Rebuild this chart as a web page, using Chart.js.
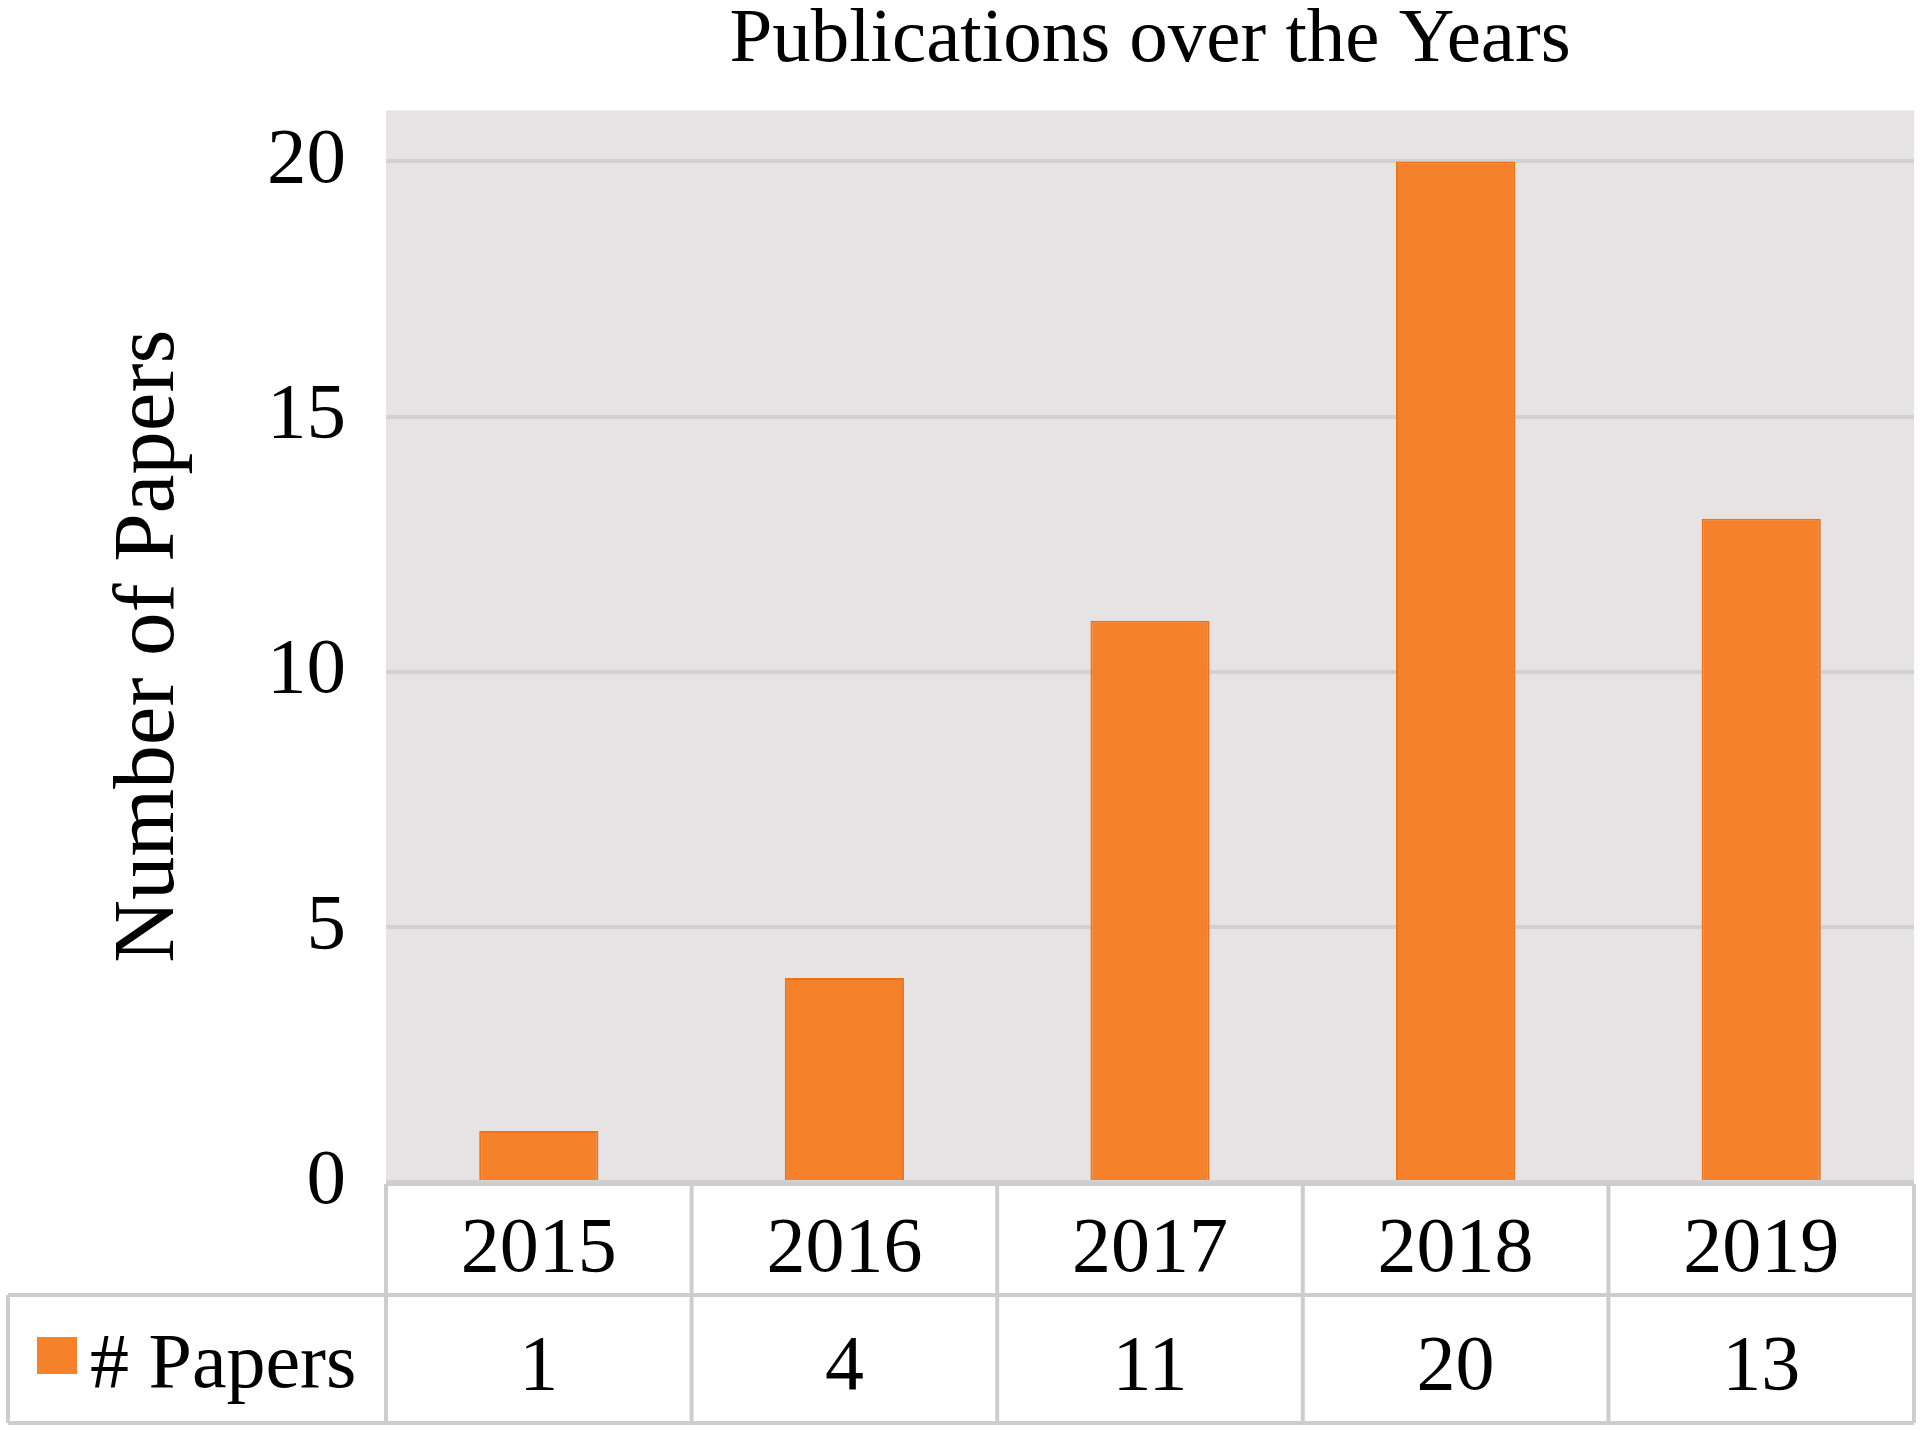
<!DOCTYPE html>
<html>
<head>
<meta charset="utf-8">
<title>Publications over the Years</title>
<script src="https://cdn.jsdelivr.net/npm/chart.js@4"></script>
<style>
    html, body { margin: 0; padding: 0; background: #ffffff; }
    #wrap { width: 1920px; height: 1431px; }
</style>
</head>
<body>
<div id="wrap"><canvas id="papersChart" width="1920" height="1431"></canvas></div>
<script>
// ============================== Data ==============================
const years = ["2015", "2016", "2017", "2018", "2019"];
const papers = [1, 4, 11, 20, 13];
const yTicks = [0, 5, 10, 15, 20];
const seriesLabel = "# Papers";
const chartTitle = "Publications over the Years";
const yTitle = "Number of Papers";

const serif = "'Liberation Serif', 'Times New Roman', serif";
const barColor = "#f5822a";
const lineGray = "#cdcdcd";

// ============================== Plugins ==============================
// grey plot background behind the bars
const plotBackground = {
    id: "plotBackground",
    beforeDraw(chart) {
        const { ctx, chartArea } = chart;
        ctx.save();
        ctx.fillStyle = "#e5e3e4";
        ctx.fillRect(chartArea.left, chartArea.top, chartArea.right - chartArea.left, chartArea.bottom - chartArea.top);
        ctx.restore();
    }
};

// data table under the plot (years row + values row with legend key)
const dataTable = {
    id: "dataTable",
    afterDraw(chart) {
        const { ctx, chartArea } = chart;
        const x = chart.scales.x;
        const top = chartArea.bottom + 2;
        const mid = top + 111;
        const bottom = mid + 128;
        const colW = (x.right - x.left) / years.length;

        ctx.save();
        ctx.strokeStyle = lineGray;
        ctx.lineWidth = 4;
        ctx.beginPath();
        // horizontal lines
        ctx.moveTo(x.left, top); ctx.lineTo(x.right, top);
        ctx.moveTo(8, mid); ctx.lineTo(x.right, mid);
        ctx.moveTo(8, bottom); ctx.lineTo(x.right, bottom);
        // vertical lines
        for (let i = 0; i <= years.length; i++) {
            const px = x.left + i * colW;
            ctx.moveTo(px, top); ctx.lineTo(px, bottom);
        }
        ctx.moveTo(8, mid); ctx.lineTo(8, bottom);
        ctx.stroke();

        ctx.fillStyle = "#000000";
        ctx.font = "78px " + serif;
        ctx.textAlign = "center";
        ctx.textBaseline = "middle";
        years.forEach((yr, i) => {
            const cx = x.getPixelForValue(i);
            ctx.fillText(yr, cx, (top + mid) / 2 + 11);
            ctx.fillText(String(papers[i]), cx, (mid + bottom) / 2 + 10);
        });

        // legend key
        ctx.fillStyle = barColor;
        ctx.fillRect(37, mid + 42, 40, 37);
        ctx.fillStyle = "#000000";
        ctx.textAlign = "left";
        ctx.fillText(seriesLabel, 90, (mid + bottom) / 2 + 8);
        ctx.restore();
    }
};

// ============================== Chart ==============================
window.addEventListener("DOMContentLoaded", () => {
    const ctx = document.getElementById("papersChart").getContext("2d");
    new Chart(ctx, {
        type: "bar",
        data: {
            labels: years,
            datasets: [{
                label: seriesLabel,
                data: papers,
                backgroundColor: barColor,
                borderColor: "#f27218",
                borderWidth: 2,
                barPercentage: 0.39,
                categoryPercentage: 1
            }]
        },
        options: {
            responsive: false,
            animation: false,
            layout: { padding: { left: 98, right: 6, top: 0, bottom: 249 } },
            plugins: {
                legend: { display: false },
                tooltip: { enabled: false },
                title: {
                    display: true,
                    text: chartTitle,
                    fullSize: false,
                    color: "#000000",
                    font: { family: serif, size: 77, weight: "normal", lineHeight: 0.72 },
                    padding: { top: 13, bottom: 42 }
                }
            },
            scales: {
                x: { display: false },
                y: {
                    min: 0,
                    max: 21,
                    afterBuildTicks: (scale) => { scale.ticks = yTicks.map(v => ({ value: v })); },
                    afterFit: (scale) => { scale.width = 386 - 98; },
                    border: { display: false },
                    grid: { color: "#d0d1d0", lineWidth: 4, drawTicks: false },
                    ticks: {
                        color: "#000000",
                        padding: 40,
                        font: { family: serif, size: 79 }
                    },
                    title: {
                        display: true,
                        text: yTitle,
                        color: "#000000",
                        padding: { top: 0, bottom: 0 },
                        font: { family: serif, size: 87, weight: "normal" }
                    }
                }
            }
        },
        plugins: [plotBackground, dataTable]
    });
});
</script>
</body>
</html>
